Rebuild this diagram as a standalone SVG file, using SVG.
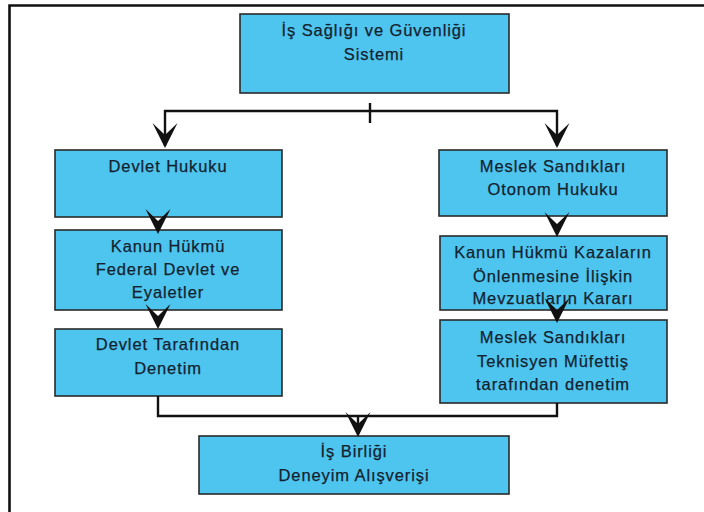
<svg xmlns="http://www.w3.org/2000/svg" width="704" height="512" viewBox="0 0 704 512">
<style>
.box{fill:#4dc5ef;stroke:#2a2a2a;stroke-width:1.6}
.t{font-family:"Liberation Sans",Arial,sans-serif;font-size:16.5px;letter-spacing:0.9px;fill:#15222e;stroke:#15222e;stroke-width:0.25;text-anchor:middle}
.c{fill:none;stroke:#111;stroke-width:2.4}
.frame{stroke:#111;stroke-width:2.6;fill:none}
</style>
<defs>
<path id="head" d="M0,0 L-12.5,-25 L0,-13 L12.5,-25 Z" fill="#111"/>
</defs>
<rect width="704" height="512" fill="#fff"/>
<path class="frame" d="M9.5,512 V5.5 H704"/>

<g id="n1"><rect class="box" x="240" y="14" width="269" height="79"/>
<text class="t" x="374" y="36">İş Sağlığı ve Güvenliği</text>
<text class="t" x="374" y="60">Sistemi</text></g>

<g id="n2"><rect class="box" x="55" y="150" width="227" height="67"/>
<text class="t" x="168" y="172">Devlet Hukuku</text></g>

<g id="n3"><rect class="box" x="55" y="230" width="227" height="80"/>
<text class="t" x="168" y="252">Kanun Hükmü</text>
<text class="t" x="168" y="275">Federal Devlet ve</text>
<text class="t" x="168" y="298">Eyaletler</text></g>

<g id="n4"><rect class="box" x="55" y="329" width="227" height="67"/>
<text class="t" x="168" y="350">Devlet Tarafından</text>
<text class="t" x="168" y="374">Denetim</text></g>

<g id="n5"><rect class="box" x="439" y="150" width="228" height="66"/>
<text class="t" x="553" y="172">Meslek Sandıkları</text>
<text class="t" x="553" y="195">Otonom Hukuku</text></g>

<g id="n6"><rect class="box" x="440" y="236" width="227" height="74"/>
<text class="t" x="553" y="258">Kanun Hükmü Kazaların</text>
<text class="t" x="553" y="282">Önlenmesine İlişkin</text>
<text class="t" x="553" y="304">Mevzuatların Kararı</text></g>

<g id="n7"><rect class="box" x="440" y="320" width="227" height="83"/>
<text class="t" x="553" y="343">Meslek Sandıkları</text>
<text class="t" x="553" y="367">Teknisyen Müfettiş</text>
<text class="t" x="553" y="390">tarafından denetim</text></g>

<g id="n8"><rect class="box" x="199" y="436" width="310" height="58"/>
<text class="t" x="354" y="457">İş Birliği</text>
<text class="t" x="354" y="481">Deneyim Alışverişi</text></g>

<g id="connectors">
<path class="c" d="M165,146 V111 H557 V146"/>
<path class="c" d="M370,103 V123"/>
<path class="c" d="M158,396 V416 H557 V403"/>
<path class="c" d="M358,416 V434"/>
<use href="#head" x="165" y="148"/>
<use href="#head" x="557" y="148"/>
<use href="#head" x="158" y="234"/>
<use href="#head" x="557" y="237"/>
<use href="#head" x="158" y="329"/>
<use href="#head" x="557" y="323"/>
<use href="#head" x="358" y="437"/>
</g>
</svg>
